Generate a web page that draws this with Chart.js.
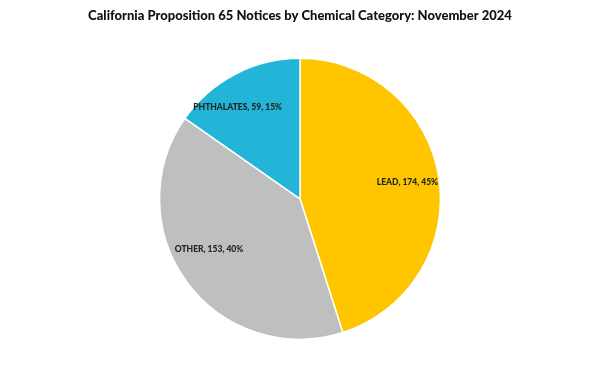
<!DOCTYPE html>
<html>
<head>
<meta charset="utf-8">
<script src="https://cdn.jsdelivr.net/npm/chart.js@4"></script>
<style>
  html, body { margin: 0; padding: 0; background: #fff; }
  #wrap { width: 600px; height: 372px; }
</style>
</head>
<body>
<div id="wrap"><canvas id="canvas-pie" width="600" height="372"></canvas></div>
<script>
const categories = ["LEAD", "OTHER", "PHTHALATES"];
const notices = [174, 153, 59];
const percents = [45, 40, 15];
const colors = ["#FFC600", "#BFBFBF", "#22B5D8"];

// small pixel nudges so labels sit where Excel's "best fit" put them
const labelNudge = [[2, 0], [-5, -13], [-13, 3]];

// draws "NAME, value, pct%" inside each slice
const sliceLabels = {
  id: "sliceLabels",
  afterDatasetsDraw(chart) {
    const ctx = chart.ctx;
    const meta = chart.getDatasetMeta(0);
    ctx.save();
    ctx.font = "900 8.5px Lato";
    ctx.fillStyle = "#222";
    ctx.textAlign = "center";
    ctx.textBaseline = "middle";
    meta.data.forEach((arc, i) => {
      const mid = (arc.startAngle + arc.endAngle) / 2;
      const r = arc.outerRadius * 0.76;
      const x = arc.x + Math.cos(mid) * r + labelNudge[i][0];
      const y = arc.y + Math.sin(mid) * r + labelNudge[i][1];
      ctx.fillText(categories[i] + ", " + notices[i] + ", " + percents[i] + "%", x, y);
    });
    ctx.restore();
  },
};

new Chart(document.getElementById("canvas-pie"), {
  type: "pie",
  data: {
    labels: categories,
    datasets: [
      {
        data: notices,
        backgroundColor: colors,
        borderColor: "#ffffff",
        borderWidth: 1.5,
      },
    ],
  },
  options: {
    responsive: false,
    animation: false,
    layout: { padding: { top: 0, bottom: 32, left: 0, right: 0 } },
    plugins: {
      legend: { display: false },
      tooltip: { enabled: false },
      title: {
        display: true,
        text: "California Proposition 65 Notices by Chemical Category: November 2024",
        color: "#111",
        font: { family: "Lato", size: 13, weight: "900" },
        padding: { top: 8, bottom: 34 },
      },
    },
  },
  plugins: [sliceLabels],
});
</script>
</body>
</html>
